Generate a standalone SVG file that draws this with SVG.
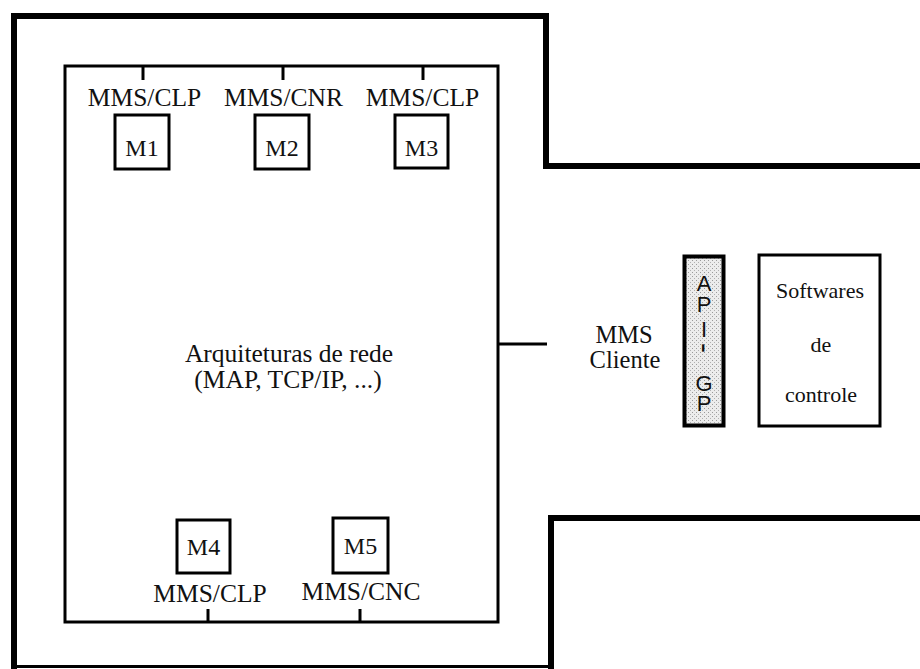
<svg xmlns="http://www.w3.org/2000/svg" width="920" height="669" viewBox="0 0 920 669">
<style>
.serif{font-family:"Liberation Serif","Times New Roman",serif;fill:#111;text-anchor:middle}
.lbl{font-size:25.5px}
.m{font-size:24px}
.main{font-size:25.5px}
.cli{font-size:24.5px}
.sw{font-size:22px}
.sans{font-family:"Liberation Sans",Arial,sans-serif;font-size:22px;fill:#111;text-anchor:middle}
.thick{fill:none;stroke:#000;stroke-width:6}
.box{fill:#fff;stroke:#000;stroke-width:3}
.ln{fill:none;stroke:#000;stroke-width:3}
</style>
<defs>
<pattern id="dots" width="4" height="4" patternUnits="userSpaceOnUse">
<rect width="4" height="4" fill="#ececec"/>
<rect x="0" y="0" width="1" height="1" fill="#9a9a9a"/>
<rect x="2" y="2" width="1" height="1" fill="#b0b0b0"/>
</pattern>
</defs>
<rect width="920" height="669" fill="#fff"/>
<g id="frame">
<path class="thick" d="M14,669 L14,16 L546,16 L546,166 L920,166"/>
<path class="thick" d="M920,518 L551,518 L551,669"/>
<line x1="14" y1="666.5" x2="551" y2="666.5" stroke="#000" stroke-width="3"/>
</g>
<g id="rede">
<rect class="box" x="65" y="66" width="433" height="556"/>
<text class="serif main" x="289" y="362">Arquiteturas de rede</text>
<text class="serif main" x="288" y="388">(MAP, TCP/IP, ...)</text>
</g>
<g id="connectors">
<line class="ln" x1="143" y1="66" x2="143" y2="80"/>
<line class="ln" x1="283" y1="66" x2="283" y2="80"/>
<line class="ln" x1="423" y1="66" x2="423" y2="80"/>
<line class="ln" x1="208" y1="609" x2="208" y2="622"/>
<line class="ln" x1="360" y1="609" x2="360" y2="622"/>
<line class="ln" x1="498" y1="344" x2="547" y2="344"/>
</g>
<g id="m1">
<text class="serif lbl" x="144.5" y="106">MMS/CLP</text>
<rect class="box" x="115" y="115" width="54" height="54"/>
<text class="serif m" x="142" y="156">M1</text>
</g>
<g id="m2">
<text class="serif lbl" x="283.5" y="106">MMS/CNR</text>
<rect class="box" x="255" y="115" width="54" height="54"/>
<text class="serif m" x="282" y="156">M2</text>
</g>
<g id="m3">
<text class="serif lbl" x="422.5" y="106">MMS/CLP</text>
<rect class="box" x="395" y="115" width="53" height="53"/>
<text class="serif m" x="421.5" y="156">M3</text>
</g>
<g id="m4">
<rect class="box" x="177" y="520" width="53" height="53"/>
<text class="serif m" x="203.5" y="555">M4</text>
<text class="serif lbl" x="210" y="602">MMS/CLP</text>
</g>
<g id="m5">
<rect class="box" x="333" y="518" width="55" height="55"/>
<text class="serif m" x="360.5" y="554">M5</text>
<text class="serif lbl" x="361" y="600">MMS/CNC</text>
</g>
<g id="cliente">
<text class="serif cli" x="624" y="343">MMS</text>
<text class="serif cli" x="625" y="368">Cliente</text>
</g>
<g id="api-gp">
<rect x="684.5" y="256.5" width="39" height="169" fill="url(#dots)" stroke="#000" stroke-width="4"/>
<text class="sans"><tspan x="704" y="291">A</tspan><tspan x="704" y="312">P</tspan><tspan x="704" y="337">I</tspan><tspan x="700" y="343" rotate="90" style="font-size:30px">-</tspan><tspan x="704" y="391">G</tspan><tspan x="704" y="411">P</tspan></text>
</g>
<g id="softwares">
<rect class="box" x="759" y="255" width="121" height="171"/>
<text class="serif sw" x="820" y="298">Softwares</text>
<text class="serif sw" x="821" y="352">de</text>
<text class="serif sw" x="821" y="402">controle</text>
</g>
</svg>
